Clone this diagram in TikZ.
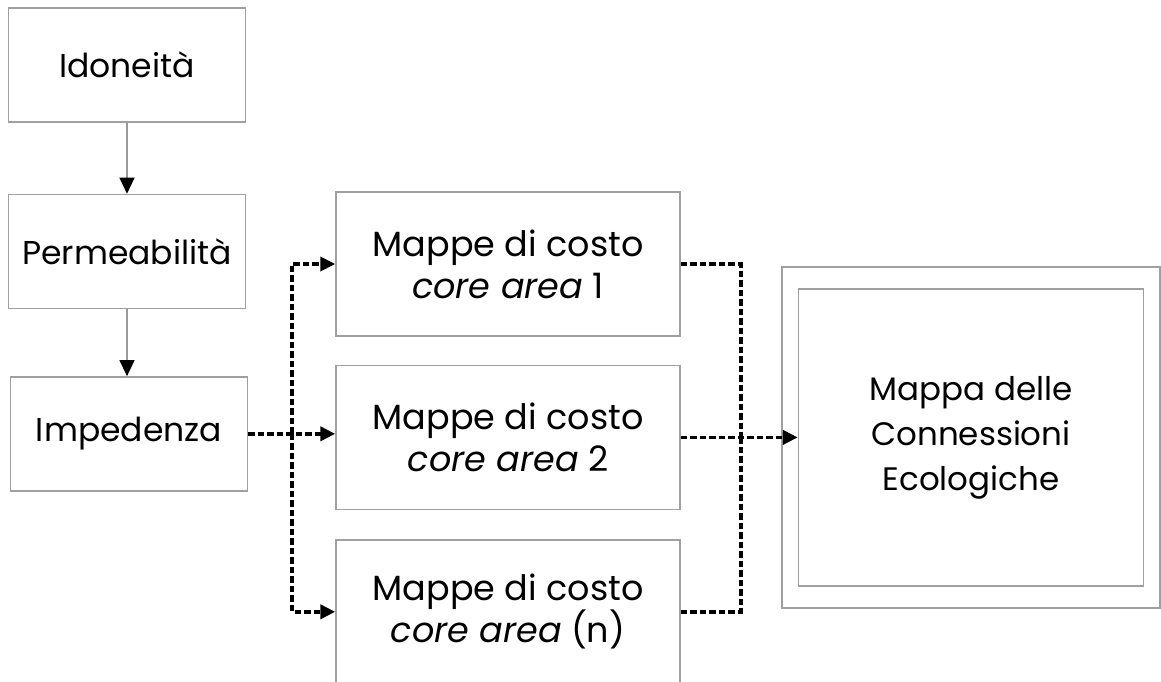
\documentclass[tikz,border=0pt]{standalone}
\usepackage{fontspec}
\setmainfont{Poppins}
\usepackage{tikz}
\usetikzlibrary{positioning,arrows.meta}

\begin{document}
\begin{tikzpicture}[x=1pt,y=-1pt,%
            stepbox/.style={rectangle, draw=gray!75, line width=1.4pt, minimum width=237pt, minimum height=114pt, inner sep=0pt, align=center, font=\fontsize{33}{42}\selectfont},
            costbox/.style={stepbox, minimum width=344pt, minimum height=144pt, font=\fontsize{35}{42}\selectfont},
            arrow/.style={-{Triangle[length=16pt,width=15pt,color=black]}, draw=gray!80, line width=1.3pt},
            dashline/.style={draw=black, line width=3.8pt, dash pattern=on 6.5pt off 3pt},
            dasharrow/.style={dashline, -{Triangle[length=15pt,width=14pt]}}
        ]
        \useasboundingbox (0,0) rectangle (1161,681);

        % Left column
        \node[stepbox] (idon) at (127,65) {Idoneità};
        \node[stepbox] (perm) [below=71pt of idon] {Permeabilità};
        \node[stepbox] (imped) [below=67pt of perm, xshift=2pt] {Impedenza};

        % Cost maps
        \node[costbox] (mappa1) at (508,264) {Mappe di costo\\\textit{core area} 1};
        \node[costbox] (mappa2) [below=28pt of mappa1] {Mappe di costo\\\textit{core area} 2};
        \node[costbox] (mappa3) [below=29pt of mappa2] {Mappe di costo\\\textit{core area} (n)};

        % Result
        \node[stepbox, minimum width=378pt, minimum height=341pt] (connout) at (971,437.5) {};
        \node[stepbox, minimum width=345pt, minimum height=297pt, font=\fontsize{32.5}{45}\selectfont] (conn) at (971,437.5) {Mappa delle\\Connessioni\\Ecologiche};

        % Solid arrows
        \draw[arrow] (idon) -- (perm);
        \draw[arrow] (perm) -- (perm |- imped.north);

        % Split towards the cost maps
        \coordinate (split) at ([xshift=44pt]imped.east);
        \draw[dasharrow] (imped.east) -- (imped.east -| mappa2.west);
        \draw[dasharrow] (split) |- (mappa1.west);
        \draw[dasharrow] (split) |- (mappa3.west);

        % Join towards the result
        \coordinate (join) at ([xshift=60pt]mappa2.east);
        \draw[dashline] (mappa1.east) -| (join);
        \draw[dashline] (mappa3.east) -| (join);
        \draw[dasharrow] (mappa2.east) -- (mappa2.east -| conn.west);

\end{tikzpicture}
\end{document}
